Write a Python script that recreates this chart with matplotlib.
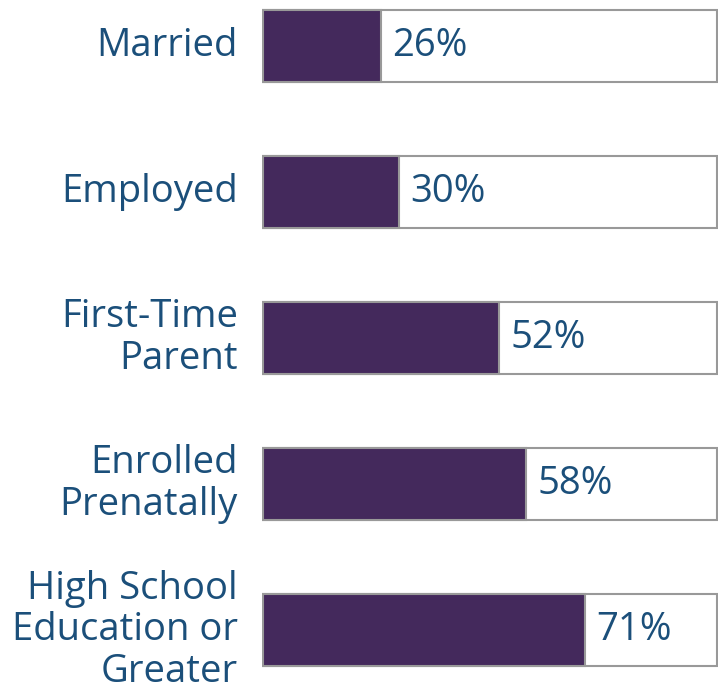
import matplotlib.pyplot as plt

plt.rcParams['font.family'] = ['Open Sans', 'DejaVu Sans']

categories = ["Married", "Employed", "First-Time\nParent", "Enrolled\nPrenatally",
              "High School\nEducation or\nGreater"]
values = [26, 30, 52, 58, 71]

purple = "#44295c"
blue = "#1b4f7a"
edge = "#999999"

fig = plt.figure(figsize=(7.21, 6.87), dpi=100)
ax = fig.add_axes([262 / 721, 0, 456 / 721, 1])

ypos = list(range(len(categories) - 1, -1, -1))
h = 0.493

# outer box, then filled share
ax.barh(ypos, [100] * len(values), height=h, color="white", edgecolor=edge, linewidth=1.5)
ax.barh(ypos, values, height=h, color=purple, edgecolor=edge, linewidth=1.5)

for y, v, lab in zip(ypos, values, categories):
    ax.text(v + 2.5, y, f"{v}%", va="center", ha="left", fontsize=27.5, color=blue)
    ax.text(-5.5, y, lab, va="center", ha="right", fontsize=27.5, color=blue,
            linespacing=1.12)

ax.set_xlim(-0.2, 100.2)
ax.set_ylim(-0.390, 4.315)
ax.axis("off")

fig.savefig("out.png", dpi=100)
